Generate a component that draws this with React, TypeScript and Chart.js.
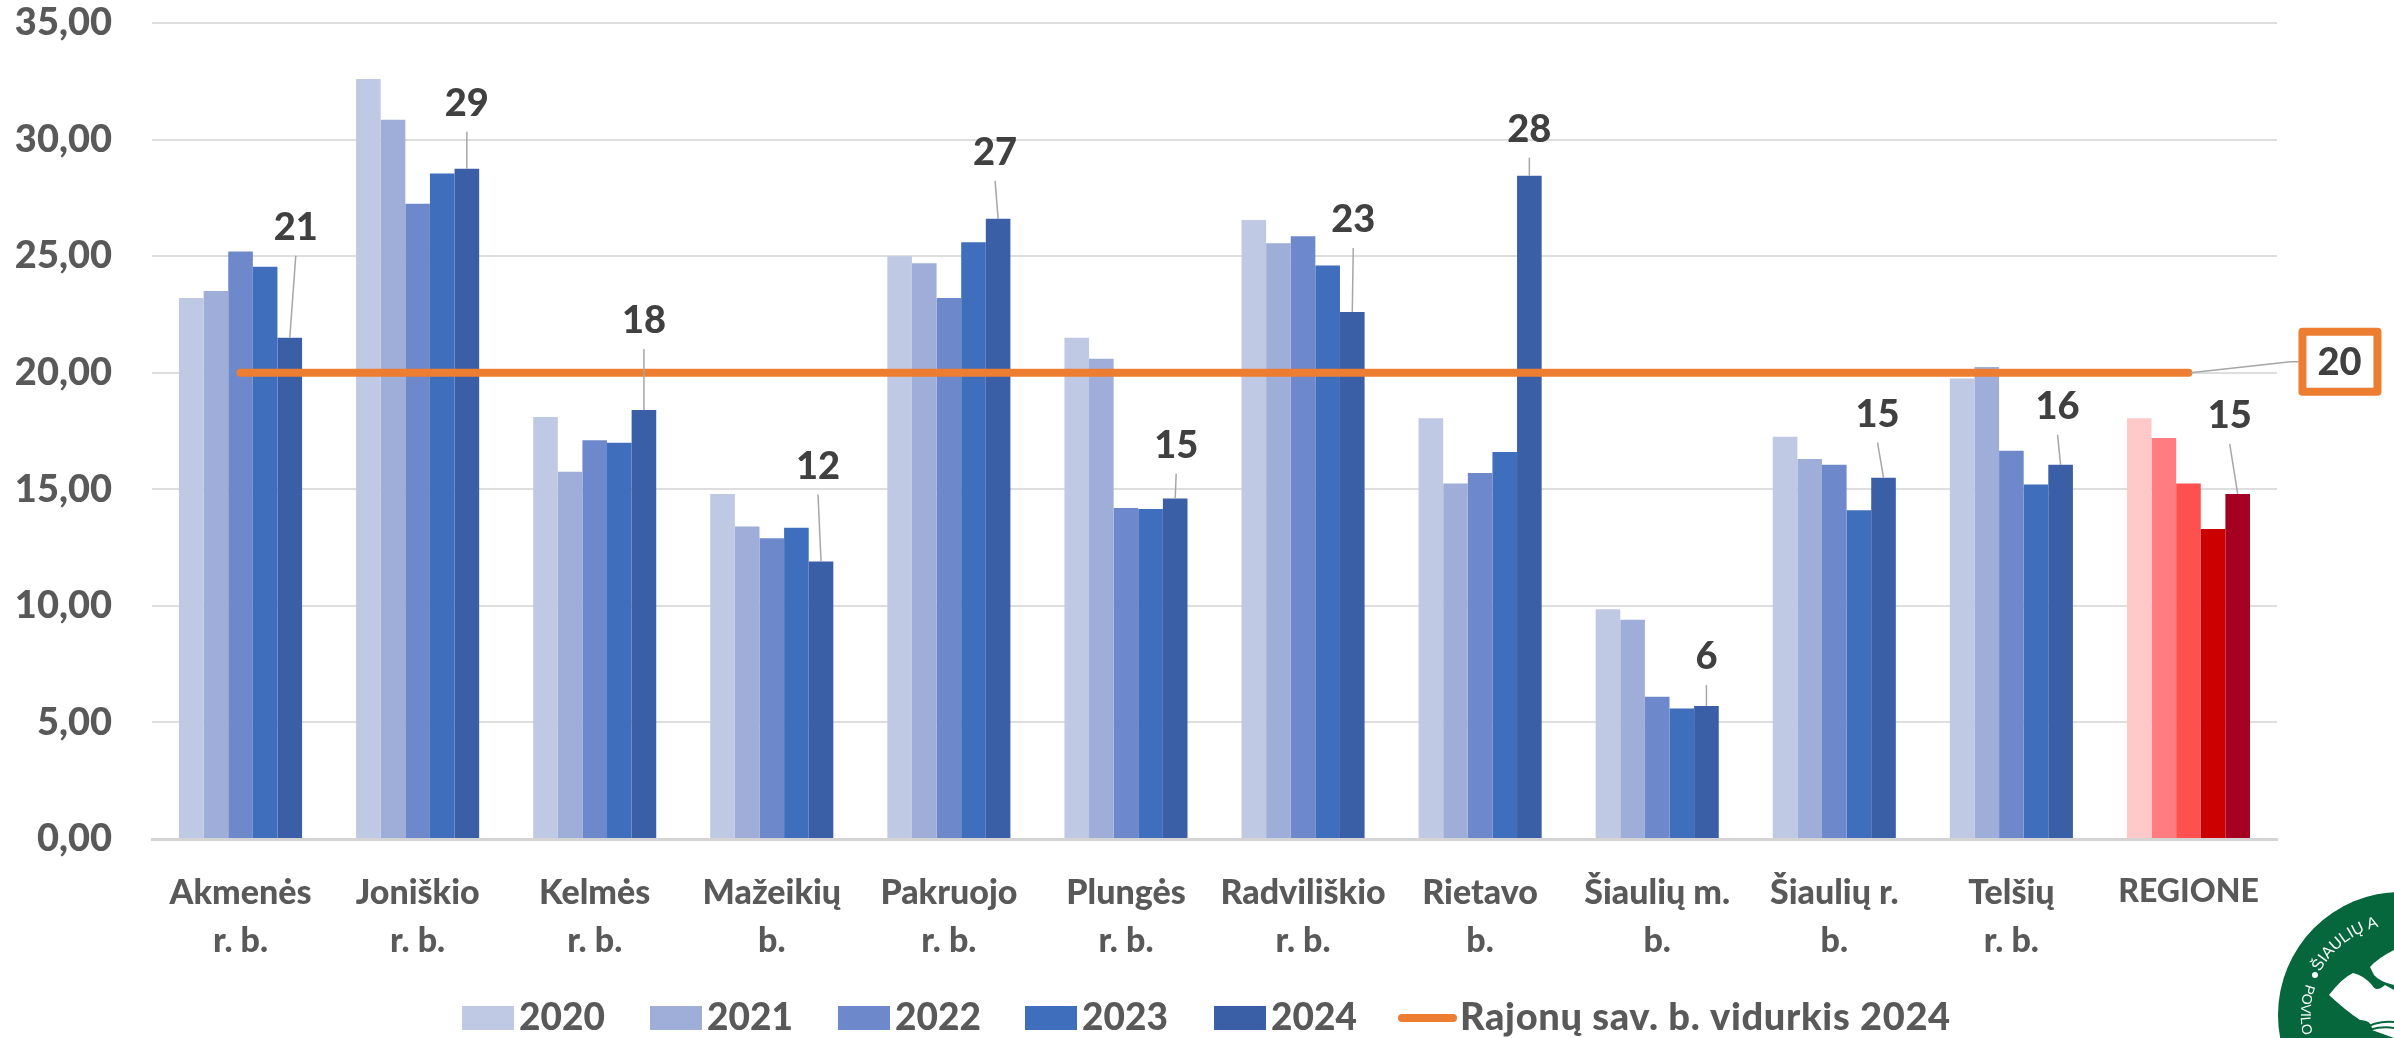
import React, { useEffect, useRef } from "react";
import { Chart, registerables } from "chart.js";

Chart.register(...registerables);

const categories = [
  ["Akmenės", "r. b."], ["Joniškio", "r. b."], ["Kelmės", "r. b."], ["Mažeikių", "b."],
  ["Pakruojo", "r. b."], ["Plungės", "r. b."], ["Radviliškio", "r. b."], ["Rietavo", "b."],
  ["Šiaulių m.", "b."], ["Šiaulių r.", "b."], ["Telšių", "r. b."], ["REGIONE"],
];
const values2020 = [23.2, 32.6, 18.1, 14.8, 25.0, 21.5, 26.55, 18.05, 9.85, 17.25, 19.75, 18.05];
const values2021 = [23.5, 30.85, 15.75, 13.4, 24.7, 20.6, 25.55, 15.25, 9.4, 16.3, 20.25, 17.2];
const values2022 = [25.2, 27.25, 17.1, 12.9, 23.2, 14.2, 25.85, 15.7, 6.1, 16.05, 16.65, 15.25];
const values2023 = [24.55, 28.55, 17.0, 13.35, 25.6, 14.15, 24.6, 16.6, 5.6, 14.1, 15.2, 13.3];
const values2024 = [21.5, 28.75, 18.4, 11.9, 26.6, 14.6, 22.6, 28.45, 5.7, 15.5, 16.05, 14.8];
const averageValues = [20, 20, 20, 20, 20, 20, 20, 20, 20, 20, 20, 20];
const labels2024 = ["21", "29", "18", "12", "27", "15", "23", "28", "6", "15", "16", "15"];
const averageLabel = "20";
const seriesNames = ["2020", "2021", "2022", "2023", "2024"];
const averageName = "Rajonų sav. b. vidurkis 2024";

const blues = ["#BFC9E4", "#9FAED9", "#6E89CB", "#3F6EBC", "#3A5FA6"];
const reds = ["#FFC9C9", "#FF7C80", "#FF5050", "#CC0000", "#A50021"];
const ORANGE = "#ED7D31";
const FONT = "Lato";
const WEIGHT = "900";

// Callout placement relative to the top of each 2024 bar, in px
const calloutDx = [6, 0, 0, -3, -3, 1, 1, 0, 0, -6, -3, -8];
const calloutDy = [-110, -65, -89, -95, -66, -53, -92, -46, -49, -63, -58, -78];

const calloutPlugin = {
  id: "callouts",
  afterDatasetsDraw(chart: any) {
    const { ctx } = chart;
    const bars = chart.getDatasetMeta(4).data;
    ctx.save();
    ctx.textAlign = "center";
    ctx.textBaseline = "middle";
    ctx.font = `${WEIGHT} 38px ${FONT}`;
    bars.forEach((bar: any, i: number) => {
      const lx = bar.x + calloutDx[i];
      const ly = bar.y + calloutDy[i];
      ctx.strokeStyle = "#A6A6A6";
      ctx.lineWidth = 1.5;
      ctx.beginPath();
      ctx.moveTo(lx, ly + 28);
      ctx.lineTo(bar.x, bar.y);
      ctx.stroke();
      ctx.fillStyle = "#404040";
      ctx.fillText(labels2024[i], lx, ly);
    });
    // Average line callout
    const lineMeta = chart.getDatasetMeta(5).data;
    const end = lineMeta[lineMeta.length - 1];
    ctx.strokeStyle = "#A6A6A6";
    ctx.lineWidth = 1.5;
    ctx.beginPath();
    ctx.moveTo(end.x + 2, end.y);
    ctx.lineTo(end.x + 102, end.y - 11);
    ctx.lineTo(end.x + 110, end.y - 11);
    ctx.stroke();
    ctx.strokeStyle = ORANGE;
    ctx.lineWidth = 8;
    ctx.lineJoin = "round";
    ctx.strokeRect(end.x + 114, end.y - 41, 75, 60);
    ctx.fillStyle = "#404040";
    ctx.fillText(averageLabel, end.x + 151, end.y - 10);
    ctx.restore();
  },
};

const legendPlugin = {
  id: "bottomLegend",
  afterDraw(chart: any) {
    const { ctx } = chart;
    ctx.save();
    ctx.font = `${WEIGHT} 37px ${FONT}`;
    ctx.textBaseline = "middle";
    ctx.textAlign = "left";
    const swatchX = [462, 650, 838, 1025, 1214];
    seriesNames.forEach((name, i) => {
      ctx.fillStyle = blues[i];
      ctx.fillRect(swatchX[i], 1006, 52, 24);
      ctx.fillStyle = "#595959";
      ctx.fillText(name, swatchX[i] + 57, 1018);
    });
    ctx.strokeStyle = ORANGE;
    ctx.lineWidth = 8;
    ctx.lineCap = "round";
    ctx.beginPath();
    ctx.moveTo(1402, 1018);
    ctx.lineTo(1453, 1018);
    ctx.stroke();
    ctx.fillStyle = "#595959";
    ctx.font = `${WEIGHT} 38px ${FONT}`;
    (ctx as any).letterSpacing = "0.65px";
    ctx.fillText(averageName, 1460, 1018);
    ctx.restore();
  },
};

function barDataset(name: string, values: number[], i: number) {
  const colors = values.map((_, k) => (k === values.length - 1 ? reds[i] : blues[i]));
  return {
    type: "bar" as const,
    label: name,
    data: values,
    backgroundColor: colors,
    borderWidth: 0,
    order: 1,
    barPercentage: 1,
    categoryPercentage: 0.695,
  };
}

export default function App() {
  const ref = useRef<HTMLCanvasElement>(null);
  useEffect(() => {
    const chart = new Chart(ref.current as HTMLCanvasElement, {
      data: {
        labels: categories as any,
        datasets: [
          barDataset(seriesNames[0], values2020, 0),
          barDataset(seriesNames[1], values2021, 1),
          barDataset(seriesNames[2], values2022, 2),
          barDataset(seriesNames[3], values2023, 3),
          barDataset(seriesNames[4], values2024, 4),
          {
            type: "line" as const,
            label: averageName,
            data: averageValues,
            borderColor: ORANGE,
            backgroundColor: ORANGE,
            borderWidth: 8,
            borderCapStyle: "round",
            pointRadius: 0,
            order: 0,
            clip: false,
          } as any,
        ],
      },
      options: {
        responsive: false,
        animation: false,
        layout: { padding: { top: 23, right: 117, bottom: 0, left: 0 } },
        plugins: { legend: { display: false }, tooltip: { enabled: false } },
        scales: {
          x: {
            grid: { display: false, drawTicks: false },
            border: { display: true, color: "#D4D4D4", width: 3 },
            afterFit(s: any) { s.height = 199; s.paddingLeft = 0; s.paddingRight = 0; },
            ticks: {
              color: "#595959",
              padding: 30,
              maxRotation: 0,
              autoSkip: false,
              font: (c: any) => ({
                family: FONT,
                weight: WEIGHT,
                size: c.index === categories.length - 1 ? 32 : 34,
                lineHeight: 1.41,
              }),
            },
          },
          y: {
            min: 0,
            max: 35,
            afterFit(s: any) { s.width = 152; s.paddingTop = 0; s.paddingBottom = 0; },
            grid: { color: "#DEDEDE", lineWidth: 2, drawTicks: false },
            border: { display: false },
            ticks: {
              stepSize: 5,
              color: "#595959",
              padding: 40,
              font: { family: FONT, weight: WEIGHT, size: 38 },
              callback: (v: any) => Number(v).toFixed(2).replace(".", ","),
            },
          },
        },
      },
      plugins: [calloutPlugin, legendPlugin],
    } as any);
    return () => chart.destroy();
  }, []);

  return (
    <div style={{ position: "fixed", left: 0, top: 0, width: 2394, height: 1038, overflow: "hidden", background: "#fff" }}>
      <canvas ref={ref} width={2394} height={1038} style={{ display: "block", width: 2394, height: 1038 }} />
      <svg width={2394} height={1038} viewBox="0 0 2394 1038" style={{ position: "absolute", left: 0, top: 0 }}>
        <defs>
          <path id="logoTop" d="M 2320 972 A 91 91 0 0 1 2401 924" />
          <path id="logoSide" d="M 2306 984 A 97 97 0 0 0 2312 1060" />
        </defs>
        <circle cx={2401} cy={1015} r={123} fill="#05673B" />
        <circle cx={2315} cy={975} r={3} fill="#fff" />
        <text fill="#fff" fontFamily="Liberation Sans" fontSize={16}>
          <textPath href="#logoTop">ŠIAULIŲ A</textPath>
        </text>
        <text fill="#fff" fontFamily="Liberation Sans" fontSize={14}>
          <textPath href="#logoSide">POVILO</textPath>
        </text>
        <path d="M2329 995 Q2342 978 2353 973 Q2363 975 2372 985 Q2376 993 2385 985 L2394 990 L2394 1038 L2372 1030 Q2372 1020 2360 1020 Q2345 1010 2329 995 Z" fill="#fff" />
        <path d="M2370 967 Q2378 958 2394 950 L2394 985 Q2380 982 2374 975 Z" fill="#fff" />
        <path d="M2355 1036 Q2375 1025 2394 1028 M2360 1030 Q2378 1020 2394 1022" stroke="#05673B" strokeWidth={2} fill="none" />
      </svg>
    </div>
  );
}
